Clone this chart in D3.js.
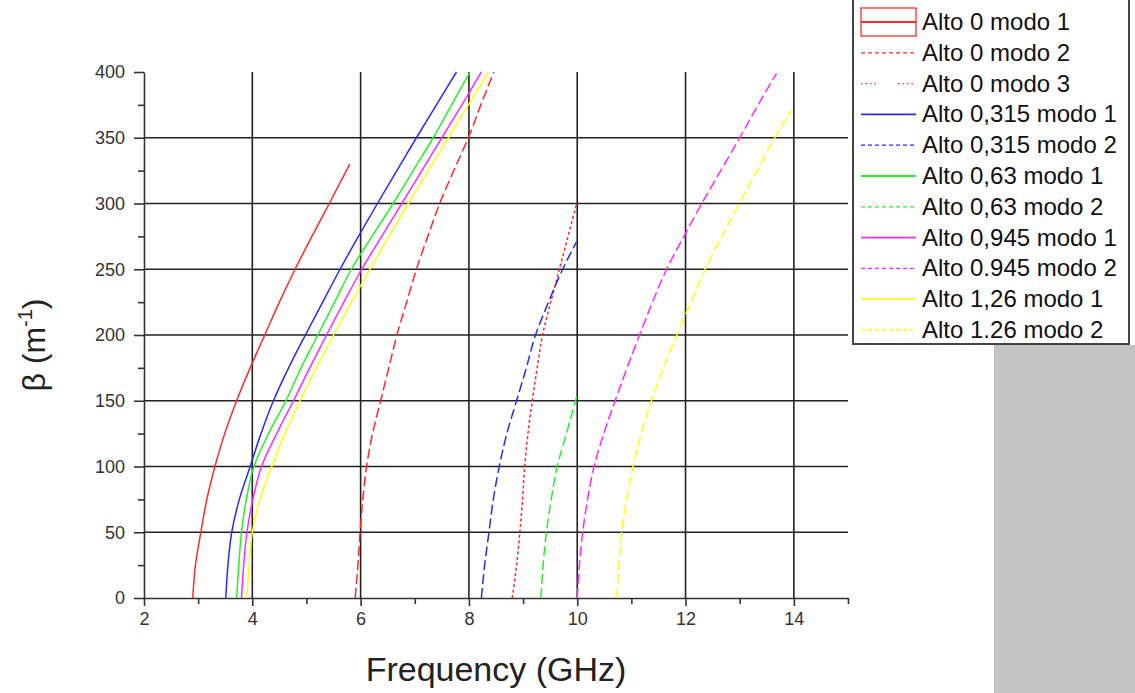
<!DOCTYPE html>
<html>
<head>
<meta charset="utf-8">
<script src="https://cdn.jsdelivr.net/npm/d3@7.9.0/dist/d3.min.js"></script>
<style>
  body { margin: 0; background: #fff; }
  svg { display: block; font-family: Arial, "Liberation Sans", sans-serif; }
</style>
</head>
<body>
<svg width="1135" height="693"></svg>
<script>
// curves: [frequency GHz, beta 1/m]
const alto0Modo1 = [[2.9,0],[2.95,25],[3.05,50],[3.16,75],[3.31,100],[3.49,125],[3.71,150],[3.96,175],[4.23,200],[4.5,225],[4.79,250],[5.1,275],[5.42,300],[5.8,330]];
const alto0Modo2 = [[5.9,0],[5.95,25],[5.99,50],[6.04,75],[6.11,100],[6.22,125],[6.37,150],[6.52,175],[6.67,200],[6.85,225],[7.03,250],[7.24,275],[7.46,300],[7.72,325],[7.99,350],[8.22,375],[8.46,400]];
const alto0Modo3 = [[8.8,0],[8.88,25],[8.94,50],[8.99,75],[9.03,100],[9.09,125],[9.17,150],[9.26,175],[9.36,200],[9.51,225],[9.67,250],[9.83,275],[9.99,300]];
const alto315Modo1 = [[3.51,0],[3.55,25],[3.62,50],[3.76,75],[3.96,100],[4.16,125],[4.39,150],[4.67,175],[4.98,200],[5.3,225],[5.62,250],[5.96,275],[6.31,300],[6.67,325],[7.03,350],[7.4,375],[7.77,400]];
const alto315Modo2 = [[8.23,0],[8.29,25],[8.37,50],[8.45,75],[8.56,100],[8.7,125],[8.88,150],[9.06,175],[9.23,200],[9.47,225],[9.73,250],[9.99,271]];
const alto63Modo1 = [[3.71,0],[3.75,25],[3.8,50],[3.89,75],[4.03,100],[4.3,125],[4.62,150],[4.9,175],[5.21,200],[5.52,225],[5.83,250],[6.21,275],[6.6,300],[6.97,325],[7.34,350],[7.68,375],[8.02,400]];
const alto63Modo2 = [[9.33,0],[9.37,25],[9.43,50],[9.52,75],[9.63,100],[9.8,125],[9.99,153]];
const alto945Modo1 = [[3.8,0],[3.84,25],[3.9,50],[4.01,75],[4.17,100],[4.45,125],[4.76,150],[5.06,175],[5.37,200],[5.69,225],[6.02,250],[6.39,275],[6.76,300],[7.13,325],[7.5,350],[7.87,375],[8.23,400]];
const alto945Modo2 = [[10.0,0],[10.04,25],[10.1,50],[10.19,75],[10.31,100],[10.49,125],[10.7,150],[10.92,175],[11.15,200],[11.39,225],[11.65,250],[11.97,275],[12.3,300],[12.65,325],[13.0,350],[13.34,375],[13.68,399]];
const alto126Modo1 = [[3.9,0],[3.94,25],[4.0,50],[4.14,75],[4.36,100],[4.6,125],[4.88,150],[5.18,175],[5.5,200],[5.83,225],[6.17,250],[6.52,275],[6.88,300],[7.25,325],[7.62,350],[7.99,375],[8.36,400]];
const alto126Modo2 = [[10.73,0],[10.77,25],[10.82,50],[10.91,75],[11.03,100],[11.18,125],[11.37,150],[11.59,175],[11.84,200],[12.1,225],[12.36,250],[12.67,275],[12.99,300],[13.32,325],[13.65,350],[13.96,371]];

const legendLabels = ['Alto 0 modo 1','Alto 0 modo 2','Alto 0 modo 3','Alto 0,315 modo 1','Alto 0,315 modo 2',
  'Alto 0,63 modo 1','Alto 0,63 modo 2','Alto 0,945 modo 1','Alto 0.945 modo 2','Alto 1,26 modo 1','Alto 1.26 modo 2'];
const xTicks = [2, 4, 6, 8, 10, 12, 14];
const xMinorTicks = [3, 5, 7, 9, 11, 13, 15];
const yTicks = [0, 50, 100, 150, 200, 250, 300, 350, 400];
const yMinorTicks = [25, 75, 125, 175, 225, 275, 325, 375];

const red = '#ff2a2a', blue = '#2a2aff', green = '#2af02a', magenta = '#ff2aff', yellow = '#ffff10';
const longDash = '10,4', dotDash = '3,2.5';

const curves = [
  { data: alto0Modo1, color: red, dash: null },
  { data: alto0Modo2, color: red, dash: longDash },
  { data: alto0Modo3, color: red, dash: dotDash },
  { data: alto315Modo1, color: blue, dash: null },
  { data: alto315Modo2, color: blue, dash: longDash },
  { data: alto63Modo1, color: green, dash: null },
  { data: alto63Modo2, color: green, dash: longDash },
  { data: alto945Modo1, color: magenta, dash: null },
  { data: alto945Modo2, color: magenta, dash: longDash },
  { data: alto126Modo1, color: yellow, dash: null },
  { data: alto126Modo2, color: yellow, dash: longDash }
];

const legendStyles = [
  { color: red, dash: null, box: true },
  { color: red, dash: '4,3' },
  { color: red, dash: '1.5,3,1.5,3,1.5,3,1.5,22' },
  { color: blue, dash: null },
  { color: blue, dash: '4,3' },
  { color: green, dash: null },
  { color: green, dash: '4,3' },
  { color: magenta, dash: null },
  { color: magenta, dash: '4,3' },
  { color: yellow, dash: null },
  { color: yellow, dash: '4,3' }
];

const svg = d3.select('svg');
const x = d3.scaleLinear().domain([2, 15]).range([144, 848]);
const y = d3.scaleLinear().domain([0, 400]).range([598, 72]);

// grey background patch at right
svg.append('rect').attr('x', 994).attr('y', 345).attr('width', 141).attr('height', 348).attr('fill', '#c3c3c3');

// grid
const grid = svg.append('g').attr('stroke', '#222').attr('stroke-width', 1.6);
grid.selectAll('line.v').data(xTicks.filter(d => d > 2)).join('line')
  .attr('class', 'v')
  .attr('x1', d => x(d)).attr('x2', d => x(d)).attr('y1', y(400)).attr('y2', y(0));
grid.selectAll('line.h').data(yTicks.filter(d => d > 0 && d < 400)).join('line')
  .attr('class', 'h')
  .attr('x1', x(2)).attr('x2', x(15)).attr('y1', d => y(d)).attr('y2', d => y(d));

// axes
const xAxis = d3.axisBottom(x).tickValues(xTicks).tickSize(8).tickSizeOuter(0).tickPadding(6).tickFormat(d3.format('d'));
const xMinor = d3.axisBottom(x).tickValues(xMinorTicks).tickSize(6).tickSizeOuter(0).tickFormat('');
const yAxis = d3.axisLeft(y).tickValues(yTicks).tickSize(10).tickSizeOuter(0).tickPadding(9);
const yMinor = d3.axisLeft(y).tickValues(yMinorTicks).tickSize(6).tickSizeOuter(0).tickFormat('');

function styleAxis(g) {
  g.select('.domain').attr('stroke', '#333').attr('stroke-width', 1.6);
  g.selectAll('.tick line').attr('stroke', '#333').attr('stroke-width', 1.6);
  g.selectAll('.tick text').attr('fill', '#333').style('font-size', '18px').style('font-family', 'Arial, "Liberation Sans", sans-serif');
}
svg.append('g').attr('transform', `translate(0,${y(0)})`).call(xAxis).call(styleAxis);
svg.append('g').attr('transform', `translate(0,${y(0)})`).call(xMinor).call(styleAxis).select('.domain').remove();
svg.append('g').attr('transform', `translate(${x(2)},0)`).call(yAxis).call(styleAxis);
svg.append('g').attr('transform', `translate(${x(2)},0)`).call(yMinor).call(styleAxis).select('.domain').remove();

// curves
const line = d3.line().x(d => x(d[0])).y(d => y(d[1])).curve(d3.curveMonotoneY);
svg.append('g').selectAll('path').data(curves).join('path')
  .attr('d', d => line(d.data))
  .attr('fill', 'none')
  .attr('stroke', d => d.color)
  .attr('stroke-width', 1.5)
  .attr('stroke-dasharray', d => d.dash);

// axis titles
svg.append('text').attr('x', 496).attr('y', 681).attr('text-anchor', 'middle')
  .style('font-size', '34px').attr('fill', '#222').text('Frequency (GHz)');
const yt = svg.append('text').attr('transform', 'translate(45,345) rotate(-90)').attr('text-anchor', 'middle')
  .style('font-size', '32px').attr('fill', '#222');
yt.append('tspan').text('β (m');
yt.append('tspan').attr('dy', -13).style('font-size', '20px').text('-1');
yt.append('tspan').attr('dy', 13).text(')');

// legend
const lg = svg.append('g');
lg.append('rect').attr('x', 853).attr('y', -2).attr('width', 276).attr('height', 346)
  .attr('fill', '#fff').attr('stroke', '#444').attr('stroke-width', 2);
const rowY = i => 22 + i * 30.8;
const items = lg.selectAll('g.item').data(legendLabels).join('g').attr('class', 'item');
items.each(function (label, i) {
  const g = d3.select(this);
  const s = legendStyles[i];
  if (s.box) {
    g.append('rect').attr('x', 861).attr('y', rowY(i) - 14).attr('width', 55).attr('height', 28)
      .attr('fill', 'none').attr('stroke', s.color).attr('stroke-width', 1.3);
  }
  g.append('line').attr('x1', 861).attr('x2', 916).attr('y1', rowY(i)).attr('y2', rowY(i))
    .attr('stroke', s.color).attr('stroke-width', s.dash ? 1.3 : 1.8).attr('stroke-dasharray', s.dash);
  g.append('text').attr('x', 922).attr('y', rowY(i) + 8).style('font-size', '24px').attr('fill', '#111').text(label);
});
</script>
</body>
</html>
